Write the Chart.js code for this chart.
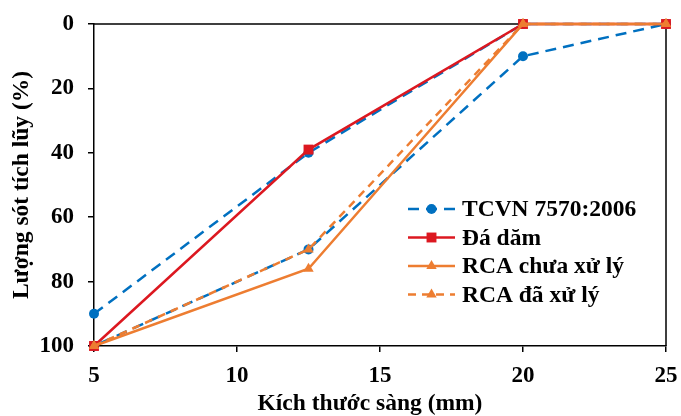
<!DOCTYPE html>
<html>
<head>
<meta charset="utf-8">
<script src="https://cdn.jsdelivr.net/npm/chart.js@4/dist/chart.umd.min.js"></script>
<style>
  html, body { margin: 0; padding: 0; background: #fff; }
  #wrap { width: 681px; height: 416px; }
</style>
</head>
<body>
<div id="wrap"><canvas id="grading" width="681" height="416"></canvas></div>
<script>
/* =========================================================
   DATA
========================================================= */
const sieveSizes   = [5, 12.5, 20, 25];
const tcvnUpper    = [90, 40, 0, 0];
const tcvnLower    = [100, 70, 10, 0];
const daDam        = [100, 39, 0, 0];
const rcaUntreated = [100, 76, 0, 0];
const rcaTreated   = [100, 70, 0, 0];

const xTicks = [5, 10, 15, 20, 25];
const yTicks = [0, 20, 40, 60, 80, 100];

const seriesNames = ["TCVN 7570:2006", "Đá dăm", "RCA chưa xử lý", "RCA đã xử lý"];
const xTitle = "Kích thước sàng (mm)";
const yTitle = "Lượng sót tích lũy (%)";

/* =========================================================
   HELPERS
========================================================= */
const FONT = "'Liberation Serif', 'Times New Roman', serif";
const BLUE = "#0070C0", RED = "#DC1820", ORANGE = "#ED7D31";

function toPoints(xs, ys) {
  return xs.map((x, i) => ({ x, y: ys[i] }));
}

// the standard band: upper limit forward, lower limit back
const tcvnPoints = toPoints(sieveSizes, tcvnUpper)
  .concat(toPoints(sieveSizes, tcvnLower).reverse());

/* =========================================================
   PLUGINS: frame, x title, legend inside plot
========================================================= */
const framePlugin = {
  id: "frame",
  beforeDatasetsDraw(chart) {
    const { ctx, chartArea: a } = chart;
    ctx.save();
    ctx.strokeStyle = "#000";
    ctx.lineWidth = 1.5;
    ctx.beginPath();
    ctx.moveTo(a.left, a.top);
    ctx.lineTo(a.right, a.top);
    ctx.lineTo(a.right, a.bottom);
    ctx.stroke();
    ctx.restore();
  }
};

// x title sits a little left of the plot centre in the original
const xTitlePlugin = {
  id: "xTitle",
  afterDraw(chart, args, opts) {
    const { ctx, chartArea: a } = chart;
    ctx.save();
    ctx.font = "bold 23.5px " + FONT;
    ctx.fillStyle = "#000";
    ctx.textAlign = "center";
    ctx.textBaseline = "middle";
    ctx.fillText(opts.text, (a.left + a.right) / 2 + opts.shift, opts.y);
    ctx.restore();
  }
};

const insideLegend = {
  id: "insideLegend",
  afterDraw(chart, args, opts) {
    const { ctx } = chart;
    ctx.save();
    ctx.font = "bold 23.5px " + FONT;
    ctx.textBaseline = "middle";
    ctx.fillStyle = "#000";
    chart.data.datasets.forEach((ds, i) => {
      const y = opts.y + i * opts.rowGap;
      ctx.save();
      ctx.strokeStyle = ds.borderColor;
      ctx.lineWidth = ds.borderWidth;
      ctx.setLineDash(ds.borderDash || []);
      ctx.beginPath();
      ctx.moveTo(opts.x, y);
      ctx.lineTo(opts.x + opts.lineLen, y);
      ctx.stroke();
      ctx.setLineDash([]);
      ctx.fillStyle = ds.pointBackgroundColor;
      ctx.strokeStyle = ds.pointBackgroundColor;
      Chart.helpers.drawPoint(ctx, {
        pointStyle: ds.pointStyle,
        radius: ds.pointRadius,
        rotation: 0,
        borderWidth: 0
      }, opts.x + opts.lineLen / 2, y);
      ctx.restore();
      ctx.fillText(ds.label, opts.x + opts.lineLen + 7, y + 1);
    });
    ctx.restore();
  }
};

/* =========================================================
   CHART
========================================================= */
function makeSet(label, points, color, dash, style, radius, order) {
  return {
    label,
    data: points,
    showLine: true,
    borderColor: color,
    borderWidth: 2.5,
    borderDash: dash,
    pointStyle: style,
    pointRadius: radius,
    pointBackgroundColor: color,
    pointBorderColor: color,
    pointBorderWidth: 0,
    pointHoverRadius: radius,
    clip: false,
    order
  };
}

const tickFont  = { family: FONT, size: 23, weight: "bold" };
const titleFont = { family: FONT, size: 23.5, weight: "bold", lineHeight: 1.05 };

new Chart(document.getElementById("grading"), {
  type: "scatter",
  data: {
    datasets: [
      makeSet(seriesNames[0], tcvnPoints, BLUE, [11, 7], "circle", 5, 4),
      makeSet(seriesNames[1], toPoints(sieveSizes, daDam), RED, [], "rect", 7, 3),
      makeSet(seriesNames[2], toPoints(sieveSizes, rcaUntreated), ORANGE, [], "triangle", 6, 2),
      makeSet(seriesNames[3], toPoints(sieveSizes, rcaTreated), ORANGE, [8, 6], "triangle", 6, 1)
    ]
  },
  options: {
    responsive: false,
    animation: false,
    layout: { padding: { top: 24, right: 15, left: 0, bottom: 0 } },
    plugins: {
      legend: { display: false },
      tooltip: { enabled: false },
      xTitle: { text: xTitle, y: 404, shift: -10 },
      insideLegend: { x: 408, y: 209, rowGap: 28.5, lineLen: 47 }
    },
    scales: {
      x: {
        type: "linear",
        min: 5,
        max: 25,
        afterBuildTicks: s => { s.ticks = xTicks.map(v => ({ value: v })); },
        afterFit: s => { s.height = 70; s.paddingLeft = 0; s.paddingRight = 0; },
        grid: { drawOnChartArea: false, drawTicks: true, tickLength: 6, color: "#000", lineWidth: 1.5 },
        border: { color: "#000", width: 1.5 },
        ticks: { color: "#000", padding: 10, maxRotation: 0, font: tickFont },
        title: { display: false }
      },
      y: {
        type: "linear",
        reverse: true,
        min: 0,
        max: 100,
        afterBuildTicks: s => { s.ticks = yTicks.map(v => ({ value: v })); },
        afterFit: s => { s.width = 94; s.paddingTop = 0; s.paddingBottom = 0; },
        grid: { drawOnChartArea: false, drawTicks: true, tickLength: 6, color: "#000", lineWidth: 1.5 },
        border: { color: "#000", width: 1.5 },
        ticks: { color: "#000", padding: 14, font: tickFont },
        title: {
          display: true,
          text: yTitle,
          color: "#000",
          padding: { top: 10, bottom: 0 },
          font: titleFont
        }
      }
    }
  },
  plugins: [framePlugin, xTitlePlugin, insideLegend]
});
</script>
</body>
</html>
